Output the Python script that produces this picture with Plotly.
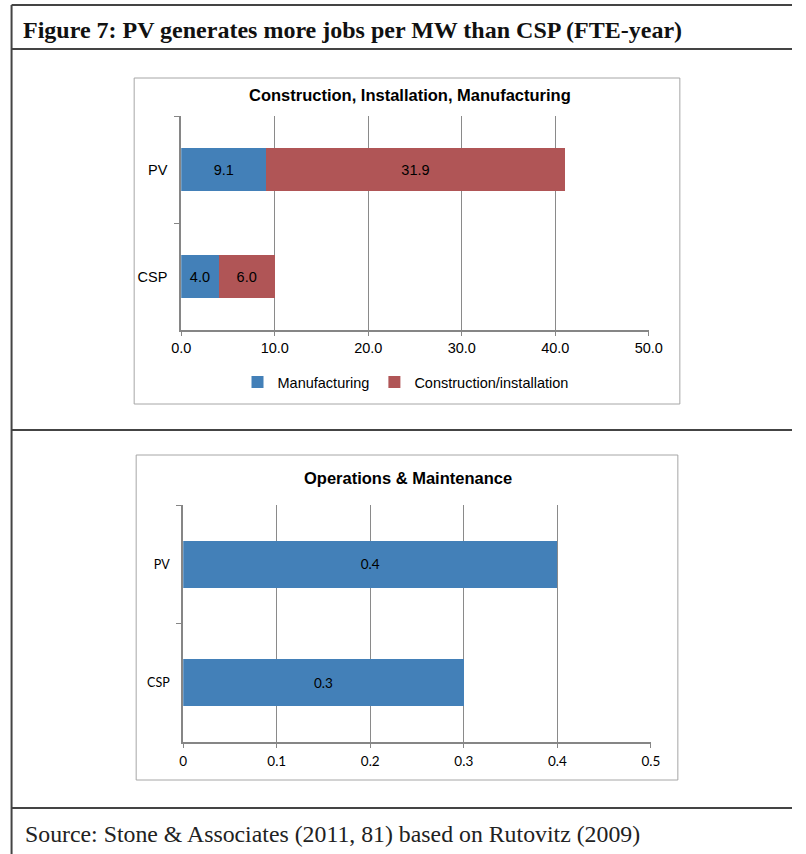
import plotly.graph_objects as go

W, H = 806, 854

# ---- data ----
categories = ["CSP", "PV"]
manufacturing = [4.0, 9.1]
construction_installation = [6.0, 31.9]
om_values = [0.3, 0.4]
series_names = ["Manufacturing", "Construction/installation"]

title_text = "Figure 7: PV generates more jobs per MW than CSP (FTE-year)"
top_title = "Construction, Installation, Manufacturing"
bottom_title = "Operations & Maintenance"
source_text = "Source: Stone & Associates (2011, 81) based on Rutovitz (2009)"

BLUE = "#4380B8"
RED = "#B05556"
GRID = "#8A8A8A"
AXIS = "#868686"
ARIAL = "Liberation Sans, Arial"
CALIBRI = "Lato, Open Sans"

# the page is displayed with the paper spanning screen x 10..791
SX0, SW = 10.0, 781.0


def px_x(x):
    return max(0.002, (x - SX0) / SW)


def px_y(y):
    return 1 - y / H


fig = go.Figure()

fig.add_trace(go.Bar(
    y=categories, x=manufacturing, orientation="h", name=series_names[0],
    marker=dict(color=BLUE, line=dict(width=0)),
    texttemplate="%{x:.1f}", textposition="inside", insidetextanchor="middle",
    textfont=dict(family=ARIAL, size=14.5, color="black"),
    xaxis="x", yaxis="y", hoverinfo="skip",
))
fig.add_trace(go.Bar(
    y=categories, x=construction_installation, orientation="h", name=series_names[1],
    marker=dict(color=RED, line=dict(width=0)),
    texttemplate="%{x:.1f}", textposition="inside", insidetextanchor="middle",
    textfont=dict(family=ARIAL, size=14.5, color="black"),
    xaxis="x", yaxis="y", hoverinfo="skip",
))
fig.add_trace(go.Bar(
    y=categories, x=om_values, orientation="h", name="O&M", showlegend=False,
    marker=dict(color=BLUE, line=dict(width=0)),
    texttemplate="%{x:.1f}", textposition="inside", insidetextanchor="middle",
    textfont=dict(family=CALIBRI, size=13.5, color="black"),
    xaxis="x2", yaxis="y2", hoverinfo="skip",
))

common_x = dict(showgrid=True, gridcolor=GRID, gridwidth=1.3, zeroline=False,
                showline=True, linecolor=AXIS, linewidth=2, ticks="outside",
                ticklen=4, tickcolor=AXIS, fixedrange=True)
common_y = dict(showgrid=False, zeroline=False, showline=True, linecolor=AXIS,
                linewidth=2, ticks="outside", ticklen=5, tickcolor=AXIS,
                tickson="boundaries", type="category", ticklabelstandoff=9,
                categoryorder="array", categoryarray=categories, fixedrange=True)

fig.update_layout(
    width=W, height=H, autosize=False,
    margin=dict(l=0, r=0, t=0, b=0),
    paper_bgcolor="white", plot_bgcolor="white",
    barmode="stack", bargap=0.6,
    showlegend=True,
    legend=dict(orientation="h", x=px_x(405), y=px_y(382), xanchor="center",
                yanchor="middle", font=dict(family=ARIAL, size=14.5, color="black"),
                itemwidth=30, traceorder="normal", bgcolor="rgba(0,0,0,0)"),
    xaxis=dict(domain=[px_x(181), px_x(648)], range=[0, 50], dtick=10, tickformat=".1f",
               anchor="y", tickfont=dict(family=ARIAL, size=14.5, color="black"),
               **common_x),
    yaxis=dict(domain=[px_y(330), px_y(116)], anchor="x",
               tickfont=dict(family=ARIAL, size=14.5, color="black"),
               **common_y),
    xaxis2=dict(domain=[px_x(183), px_x(650)], range=[0, 0.5], dtick=0.1,
                anchor="y2", tickfont=dict(family=CALIBRI, size=13.5, color="black"),
                ticklabelstandoff=2, **common_x),
    yaxis2=dict(domain=[px_y(742), px_y(505)], anchor="x2",
                tickfont=dict(family=CALIBRI, size=12.5, color="black"),
                **common_y),
)

# frame lines
LINE = "#444444"
shapes = [
    dict(type="line", xref="paper", yref="paper", x0=px_x(7), x1=1, y0=px_y(5), y1=px_y(5)),
    dict(type="line", xref="paper", yref="paper", x0=px_x(7), x1=1, y0=px_y(49), y1=px_y(49)),
    dict(type="line", xref="paper", yref="paper", x0=px_x(7), x1=1, y0=px_y(430), y1=px_y(430)),
    dict(type="line", xref="paper", yref="paper", x0=px_x(7), x1=1, y0=px_y(808), y1=px_y(808)),
    dict(type="line", xref="paper", yref="paper", x0=px_x(7), x1=px_x(7), y0=px_y(5), y1=0),
]
for s in shapes:
    s["line"] = dict(color=LINE, width=2)
# chart boxes
for (x0, y0, x1, y1) in [(134, 78, 679, 404), (136, 455, 677, 780)]:
    shapes.append(dict(type="rect", xref="paper", yref="paper",
                       x0=px_x(x0), x1=px_x(x1), y0=px_y(y1), y1=px_y(y0),
                       line=dict(color="#A6A6A6", width=1), layer="below"))
fig.update_layout(shapes=shapes)

annotations = [
    dict(text="<b>" + title_text + "</b>", x=px_x(21), y=px_y(30), xanchor="left", yanchor="middle",
         font=dict(family="Liberation Serif, Times New Roman", size=24, color="#111111")),
    dict(text="<b>" + top_title + "</b>", x=px_x(409), y=px_y(95), xanchor="center", yanchor="middle",
         font=dict(family=ARIAL, size=16.5, color="black")),
    dict(text="<b>" + bottom_title + "</b>", x=px_x(407), y=px_y(478), xanchor="center", yanchor="middle",
         font=dict(family=ARIAL, size=16.5, color="black")),
    dict(text=source_text, x=px_x(23), y=px_y(834), xanchor="left", yanchor="middle",
         font=dict(family="Liberation Serif, Times New Roman", size=23.8, color="#222222")),
]
for a in annotations:
    a.update(xref="paper", yref="paper", showarrow=False)
fig.update_layout(annotations=annotations)

fig.write_html("out.html",
               config={"responsive": False, "displayModeBar": False, "staticPlot": True},
               default_width="806px", default_height="854px",
               post_script="document.body.style.margin='0';document.body.style.overflow='hidden';")
